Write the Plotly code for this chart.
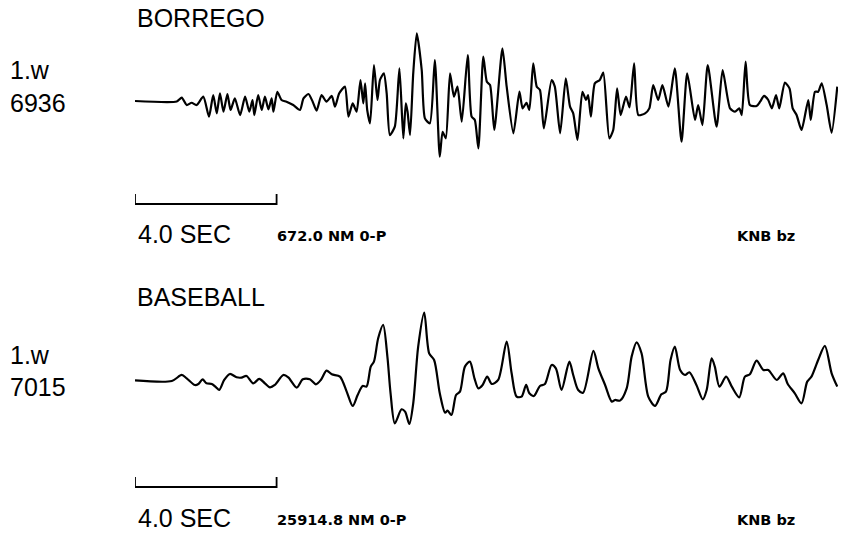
import plotly.graph_objects as go

# ---------------- data ----------------
stations = ["BORREGO", "BASEBALL"]
event_ids = ["6936", "7015"]
component = "1.w"
channel = "KNB bz"
peak_nm = [672.0, 25914.8]          # 0-P amplitude, nm
scale_bar_sec = 4.0

# BORREGO trace: time (s) and displacement (nm)
borrego_t = [
    0, 1.18, 1.32, 1.46, 1.60, 1.74, 1.93, 2.09, 2.21, 2.31, 2.40, 2.50, 2.61, 2.70, 2.82, 2.97,
    3.11, 3.23, 3.32, 3.37, 3.48, 3.58, 3.67, 3.77, 3.86, 3.91, 4.02, 4.14, 4.28, 4.47, 4.66,
    4.76, 4.90, 5.02, 5.13, 5.27, 5.41, 5.56, 5.65, 5.77, 5.93, 6.03, 6.15, 6.26, 6.37, 6.45,
    6.50, 6.56, 6.64,
    6.75, 6.85, 6.92, 7.03, 7.11, 7.20, 7.34, 7.47, 7.58, 7.65, 7.70, 7.77, 7.86, 7.96, 8.10,
    8.19, 8.33, 8.47, 8.61, 8.69, 8.78, 8.90, 9.01, 9.11, 9.23, 9.40, 9.51, 9.60, 9.70, 9.84,
    9.94, 10.03, 10.15, 10.38, 10.50, 10.69, 10.86, 10.95, 11.06, 11.14, 11.25, 11.35, 11.44,
    11.55, 11.77, 11.86, 12.01, 12.17, 12.29, 12.38, 12.50, 12.64, 12.74, 12.80, 12.88, 12.99,
    13.13, 13.23,
    13.40, 13.51, 13.62, 13.72, 13.87, 13.97, 14.10, 14.22, 14.41, 14.53, 14.64, 14.78, 14.90,
    15.07, 15.25, 15.44, 15.60, 15.82, 15.91, 16.03, 16.18, 16.43, 16.60, 16.81, 16.95, 17.07,
    17.14, 17.25, 17.37, 17.56, 17.66, 17.77, 17.89, 17.99, 18.11, 18.20, 18.36, 18.49, 18.58,
    18.69, 18.83, 19.02, 19.09, 19.21, 19.30, 19.40, 19.54, 19.68, 19.84,
]
borrego_nm = [
    0, -5, 33, -40, -17, -40, 43, -155, 59, -122, 76, -106, 69, -89, 26, -139,
    43, -106, 10, -139, 59, -89, 43, -83, 26, -106, 92, 10, -7, -40, -89,
    26, 69, -7, -96, 59, -7, 50, -56, 76, 142, -155, -23, -106, 208, -23,
    175, -89, -221,
    356, 10, 208, 274, 76, -337, -254, 323, -370, -23, -106, -337, 274, 670, 307,
    -172, -221, 406, -551, -304, -370, 274, 43, 142, -205, 455, -155, -188, -469, 439,
    191, 158, -287, 521, 142, -320, 92, -73, -17, -89, 373, 142, 109,
    -271, 208, 142, -320, 224, -56, -122, -386, 92, 10, 59, -155, 175,
    208, 281,
    -370, -287, 125, -139, 43, -63, 373, -139, -122, -73, 158, 10, 158,
    -56, 323, -403, 274, -188, -40, -238, 356, -254, 307, -73, -106, -73,
    -139, 389, -40, -50, -7, 50, 10, -73, 59, -73, 182, 125, -73,
    -139, -287, 10, -188, 92, 92, 175, -40, -314, 142,
]

# BASEBALL trace: time (s) and displacement (nm)
baseball_t = [
    0, 1.04, 1.32, 1.46, 1.69, 1.79, 1.91, 2.02, 2.17, 2.29, 2.38, 2.52, 2.68, 2.87, 3.01,
    3.15, 3.34, 3.51, 3.67, 3.81, 3.95, 4.19, 4.33, 4.57, 4.74, 4.94, 5.11, 5.25, 5.41, 5.56,
    5.79, 5.98, 6.15, 6.29, 6.43, 6.54, 6.66,
    6.75, 6.87, 7.01, 7.13, 7.22, 7.34, 7.53, 7.63, 7.75, 7.86, 8.00, 8.17, 8.31, 8.45, 8.61,
    8.76, 8.83, 8.94, 9.07, 9.18, 9.32, 9.46, 9.59, 9.70, 9.82, 9.95, 10.08, 10.26, 10.50, 10.64,
    10.78, 10.92, 11.05, 11.14, 11.27, 11.44, 11.58, 11.77, 11.89, 12.05, 12.27, 12.38, 12.52,
    12.66, 12.95, 13.09,
    13.28, 13.47, 13.56, 13.70, 13.89, 14.03, 14.17, 14.31, 14.50, 14.69, 14.87, 15.00, 15.13,
    15.25, 15.40, 15.54, 15.66, 15.86, 16.04, 16.15, 16.29, 16.38, 16.51, 16.70, 16.86, 17.07,
    17.23, 17.37, 17.56, 17.75, 17.89, 18.13, 18.31, 18.44, 18.64, 18.83, 18.99, 19.11, 19.30,
    19.49, 19.68, 19.84,
]
baseball_nm = [
    0, -260, 2040, 770, -1790, -1410, 380, -1150, -1410, -2680, -3700, 130, 2430, 1150, 1020,
    1660, -1150, 510, -1150, -2680, -1790, 2040, 1150, -2810, 380, 380, -1530, 130, 3700, 2300,
    1410, -4340, -9830, -5620, -2170, -2430, 5240,
    7150, 16090, 21200, 9070, -4980, -16470, -11110, -12000, -16730, -8810, 12900, 25910, 10340, 7790, -4980,
    -12390, -11620, -13280, -5620, -4340, 5240, 7150, 770, -3070, -1790, 1410, -1410, 130, 14810, 2680,
    -6260, -6260, -1790, -4980, -6000, -2170, -1410, 5870, 4600, -3700, 7150, 2040, -3700,
    -4730, 11240, 4600,
    -1790, -8170, -7530, -7790, -3070, 9070, 14560, 10340, -6260, -9830, -5360, -4340, 7790,
    12900, 3960, 2040, 3070, -1790, -7280, -3700, 8430, 5240, -2430, 1410, -2430, -6510,
    1410, 2300, 7530, 3960, 3960, 130, 2680, -1410, -4980, -8810, -510, 1410, 7790,
    13150, 2680, -2430,
]

assert len(borrego_t) == len(borrego_nm)
assert len(baseball_t) == len(baseball_nm)

# ---------------- figure ----------------
W, H = 846, 536


def px_x(p):
    return p / W


def px_y(p):
    return 1 - p / H


fig = go.Figure()
fig.add_trace(go.Scatter(x=borrego_t, y=borrego_nm, mode="lines",
                         line=dict(color="black", width=2.2, shape="spline", smoothing=0.6),
                         xaxis="x", yaxis="y", showlegend=False, hoverinfo="skip"))
fig.add_trace(go.Scatter(x=baseball_t, y=baseball_nm, mode="lines",
                         line=dict(color="black", width=2.2, shape="spline", smoothing=0.8),
                         xaxis="x2", yaxis="y2", showlegend=False, hoverinfo="skip"))

xdom = [px_x(135), px_x(838)]
xr = [0, 19.86]
ax_common = dict(visible=False, fixedrange=True)
fig.update_layout(
    width=W, height=H,
    margin=dict(l=0, r=0, t=0, b=0),
    paper_bgcolor="white", plot_bgcolor="white",
    xaxis=dict(domain=xdom, range=xr, anchor="y", **ax_common),
    yaxis=dict(domain=[px_y(180), px_y(20)], range=[-782, 802], anchor="x", **ax_common),
    xaxis2=dict(domain=xdom, range=xr, anchor="y2", **ax_common),
    yaxis2=dict(domain=[px_y(450), px_y(290)], range=[-26695, 34585], anchor="x2", **ax_common),
    showlegend=False,
)

font_big = dict(family="Liberation Sans, Arial, sans-serif", size=25, color="black")
font_small = dict(family="DejaVu Sans, sans-serif", size=14.5, color="black", weight="bold")

# per-panel text rows (y in px)
layout_rows = [
    dict(title=18, comp=70, evt=103, sec=234, small=236, bar=(194, 204)),
    dict(title=297, comp=355, evt=387, sec=518, small=520, bar=(477, 487)),
]
for i, r in enumerate(layout_rows):
    anns = [
        (stations[i], 135, r["title"], font_big),
        (component, 8, r["comp"], font_big),
        (event_ids[i], 8, r["evt"], font_big),
        (f"{scale_bar_sec:.1f} SEC", 136, r["sec"], font_big),
        (f"{peak_nm[i]:.1f} NM 0-P", 275, r["small"], font_small),
        (channel, 735, r["small"], font_small),
    ]
    for text, x, y, f in anns:
        fig.add_annotation(text=text, x=px_x(x), y=px_y(y), xref="paper", yref="paper",
                           xanchor="left", yanchor="middle", showarrow=False, font=f)

    # scale bar: 0 .. scale_bar_sec on the time axis
    xref = "x" if i == 0 else "x2"
    ytop = px_y(r["bar"][0])
    ybot = px_y(r["bar"][1])
    fig.add_shape(type="path", xref=xref, yref="paper",
                  path=f"M 0,{ytop} L 0,{ybot} L {scale_bar_sec},{ybot} L {scale_bar_sec},{ytop}",
                  line=dict(color="black", width=1.8))

fig.write_html("out.html")
